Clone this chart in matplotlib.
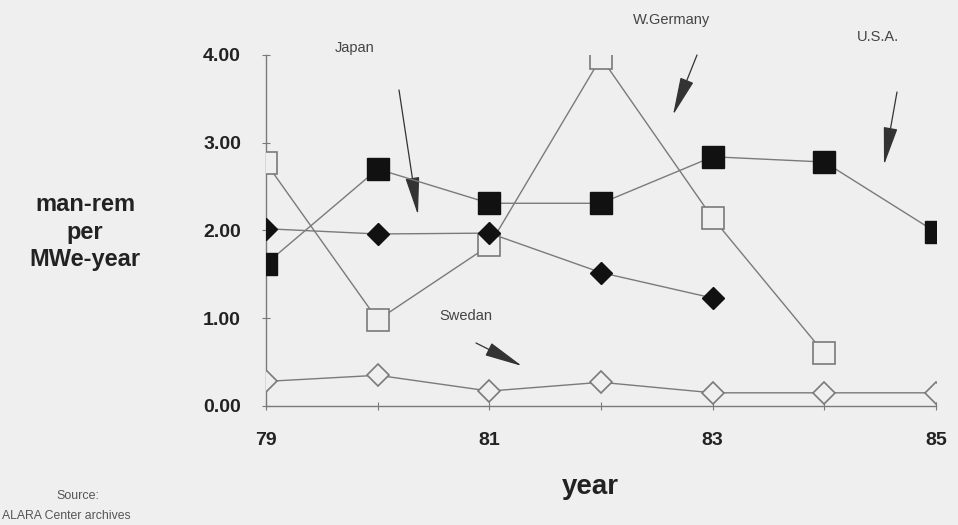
import numpy as np
import matplotlib.pyplot as plt

years = [79, 80, 81, 82, 83, 84, 85]
usa = [1.62, 2.70, 2.31, 2.31, 2.84, 2.78, 1.98]
japan = [2.02, 1.96, 1.97, 1.52, 1.23]
wgermany = [2.77, 0.98, 1.83, 3.97, 2.14, 0.60]
sweden = [0.28, 0.35, 0.17, 0.27, 0.15, 0.15, 0.15]

yticks = [0, 1, 2, 3, 4]
ytick_labels = ['0.00', '1.00', '2.00', '3.00', '4.00']
xtick_labels = ['79', '', '81', '', '83', '', '85']

plt.rcParams['font.family'] = ['Liberation Sans', 'DejaVu Sans']

bg = '#efefef'
line_c = '#7a7a7a'
ink = '#222222'

fig = plt.figure(figsize=(9.58, 5.25), dpi=100, facecolor=bg)
ax = fig.add_axes([0.2777, 0.2267, 0.6994, 0.6686], facecolor=bg)

# lines
ax.plot(years[:len(wgermany)], wgermany, color=line_c, lw=1, marker='s', ms=16.5,
        mfc=bg, mec=line_c, mew=1.2, zorder=3)
ax.plot(years, sweden, color=line_c, lw=1, marker='D', ms=11.5,
        mfc=bg, mec=line_c, mew=1.2, zorder=3)
ax.plot(years, usa, color=line_c, lw=1, marker='s', ms=16,
        mfc='#111111', mec='#111111', zorder=4)
ax.plot(years[:len(japan)], japan, color=line_c, lw=1, marker='D', ms=11.5,
        mfc='#111111', mec='#111111', zorder=4)

ax.set_xlim(79, 85)
ax.set_ylim(0, 4)
for s in ['top', 'right']:
  ax.spines[s].set_visible(False)
for s in ['left', 'bottom']:
  ax.spines[s].set_color(line_c)
  ax.spines[s].set_linewidth(1)

ax.set_yticks(yticks)
ax.set_yticklabels(ytick_labels)
ax.set_xticks(years)
ax.set_xticklabels(xtick_labels)
ax.tick_params(axis='both', direction='inout', length=6, width=0.8, color=line_c,
               labelsize=14, labelcolor=ink)
ax.tick_params(axis='y', pad=15)
ax.tick_params(axis='x', pad=16)
for lab in ax.get_xticklabels() + ax.get_yticklabels():
  lab.set_fontweight('bold')

# annotations
arrow = dict(arrowstyle='-|>,head_length=1.2,head_width=0.22', color='#333333',
             lw=0.9, mutation_scale=20, shrinkA=0, shrinkB=0)
fig.text(355 / 958, 1 - 48 / 525, 'Japan', fontsize=10.5, color='#444444',
         ha='center', va='center')
ax.annotate('', xy=(418, 525 - 215), xytext=(399, 525 - 90),
            xycoords='figure pixels', textcoords='figure pixels', arrowprops=arrow)
fig.text(672 / 958, 1 - 20 / 525, 'W.Germany', fontsize=10.5, color='#444444',
         ha='center', va='center')
ax.annotate('', xy=(673, 525 - 115), xytext=(697, 525 - 55),
            xycoords='figure pixels', textcoords='figure pixels', arrowprops=arrow)
fig.text(878 / 958, 1 - 37 / 525, 'U.S.A.', fontsize=10.5, color='#444444',
         ha='center', va='center')
ax.annotate('', xy=(884, 525 - 165), xytext=(897, 525 - 92),
            xycoords='figure pixels', textcoords='figure pixels', arrowprops=arrow)
fig.text(466 / 958, 1 - 316 / 525, 'Swedan', fontsize=10.5, color='#444444',
         ha='center', va='center')
ax.annotate('', xy=(522, 525 - 366), xytext=(476, 525 - 343),
            xycoords='figure pixels', textcoords='figure pixels', arrowprops=arrow)

# axis titles
fig.text(85 / 958, 1 - 232 / 525, 'man-rem\nper\nMWe-year', fontsize=17,
         fontweight='bold', color=ink, ha='center', va='center', linespacing=1.25)
fig.text(590 / 958, 1 - 487 / 525, 'year', fontsize=20, fontweight='bold',
         color=ink, ha='center', va='center')
fig.text(78 / 958, 1 - 496 / 525, 'Source:', fontsize=9, color='#555555',
         ha='center', va='center')
fig.text(2 / 958, 1 - 516 / 525, 'ALARA Center archives', fontsize=8.8,
         color='#555555', ha='left', va='center')

fig.savefig('out.png', dpi=100, facecolor=bg)
